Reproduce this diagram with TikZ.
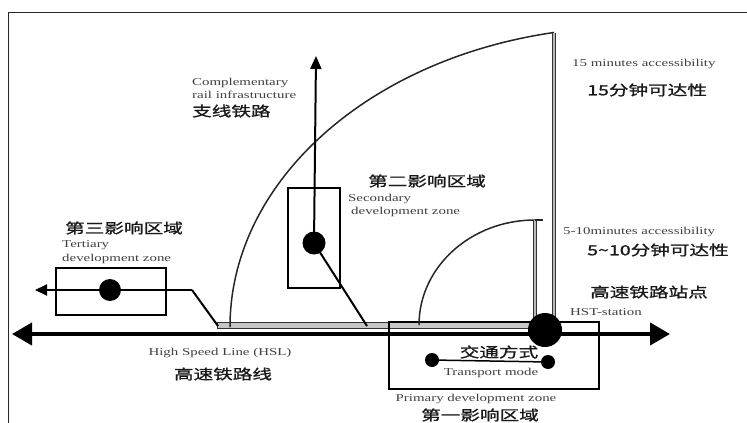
\documentclass[tikz,border=0pt]{standalone}
\usepackage{fontspec}
\setmainfont{Liberation Serif}
\newfontfamily\enfont[FakeStretch=1.42]{Liberation Serif}
\newfontfamily\cjkfont[FakeStretch=1.4,FakeBold=1.2]{Noto Sans CJK SC}
\usetikzlibrary{arrows.meta}
\begin{document}
\begin{tikzpicture}[x=1pt,y=-1pt,
  entext/.style={font=\enfont\fontsize{10.5}{11}\selectfont, text=black!75, inner sep=0pt},
  zhtext/.style={font=\cjkfont\fontsize{14}{15}\selectfont, text=black!90, inner sep=0pt},
  dot/.style={circle, fill=black, inner sep=0pt},
  zonebox/.style={draw=black, line width=2pt},
  arcline/.style={draw=black!85, line width=1.5pt},
  dblline/.style={draw=black!80, line width=0.9pt, double=gray!55, double distance=1.4pt},
  thinline/.style={draw=black, line width=2pt}
]
\useasboundingbox (0,0) rectangle (747,423);
% frame
\draw[line width=1pt, black!85] (8,423) -- (8,12) -- (747,12);

% coordinates
\coordinate (hslL) at (12,334);
\coordinate (hslR) at (670,334);
\coordinate (bandL) at (217,322);
\coordinate (bandR) at (540,328);
\coordinate (terEnd) at (35,290);
\coordinate (terCorner) at (192,290);
\coordinate (terJoin) at (218,326);
\coordinate (secTop) at (316,56);
\coordinate (secJoin) at (367,326);
\coordinate (outerStart) at (230,327);
\coordinate (outerTop) at (554,32.5);
\coordinate (outerFoot) at (554,320);
\coordinate (innerStart) at (419,325);
\coordinate (innerTop) at (535,220);
\coordinate (innerFoot) at (535,320);
\coordinate (innerTick) at (543,220);

% band along the HSL
\draw[draw=black!80, fill=gray!45, line width=0.8pt] (bandL) rectangle (bandR);

% zone boxes
\node[zonebox, minimum width=110pt, minimum height=47pt, anchor=north west, inner sep=0pt] (terbox) at (55,267) {};
\node[zonebox, minimum width=52pt, minimum height=100pt, anchor=north west, inner sep=0pt] (secbox) at (287,187) {};
\node[zonebox, minimum width=210pt, minimum height=67pt, anchor=north west, inner sep=0pt] (pribox) at (388,321) {};

% main high speed line
\draw[line width=4pt, {Triangle[length=20pt,width=22pt]}-{Triangle[length=20pt,width=22pt]}] (hslL) -- (hslR);

% accessibility arcs
\draw[arcline] (outerStart) arc[start angle=180, end angle=259.05, x radius=400, y radius=300];
\draw[dblline] (outerTop) -- (outerFoot);
\draw[arcline] (innerStart) arc[start angle=180, end angle=270, x radius=116, y radius=105];
\draw[dblline] (innerTop) -- (innerFoot);
\draw[arcline] (innerTop) -- (innerTick);

% dots
\node[dot, minimum size=22pt] (ter) at (110,290) {};
\node[dot, minimum size=23pt] (sec) at (314,243) {};
\node[dot, minimum size=34pt] (hst) at (545,330) {};
\node[dot, minimum size=14pt] (tmA) at (432,360) {};
\node[dot, minimum size=14pt] (tmB) at (548,362) {};

% connectors
\draw[thinline, -{Triangle[length=12pt,width=11pt]}] (terCorner) -- (terEnd);
\draw[thinline] (terJoin) -- (terCorner);
\draw[thinline, -{Triangle[length=13pt,width=11pt]}] (sec.center) -- (secTop);
\draw[thinline] (sec.center) -- (secJoin);
\draw[line width=1.5pt] (tmA) -- (tmB);

% texts
\node[entext, anchor=west] (tc1) at (192,83) {Complementary};
\node[entext, anchor=west] (tc2) at (192,95) {rail infrastructure};
\node[zhtext, anchor=west] (tc3) at (192,111) {支线铁路};

\node[entext, anchor=west] (t15a) at (572,64) {15 minutes accessibility};
\node[zhtext, anchor=west] (t15b) at (587,90) {15分钟可达性};

\node[zhtext, anchor=west] (ts1) at (368,181) {第二影响区域};
\node[entext, anchor=west] (ts2) at (348,199) {Secondary};
\node[entext, anchor=west] (ts3) at (351,212) {development zone};

\node[zhtext, anchor=west] (tt1) at (65,228) {第三影响区域};
\node[entext, anchor=west] (tt2) at (62,245) {Tertiary};
\node[entext, anchor=west] (tt3) at (62,259) {development zone};

\node[entext, anchor=west] (t10a) at (563,232) {5-10minutes accessibility};
\node[zhtext, anchor=west] (t10b) at (587,250) {5\textasciitilde10分钟可达性};

\node[zhtext, anchor=west] (th1) at (590,292) {高速铁路站点};
\node[entext, anchor=west] (th2) at (570,312) {HST-station};

\node[entext] (tl1) at (220,353) {High Speed Line (HSL)};
\node[zhtext] (tl2) at (223,374) {高速铁路线};

\node[zhtext] (tm1) at (499,352) {交通方式};
\node[entext] (tm2) at (491,373) {Transport mode};

\node[entext] (tp1) at (476,399) {Primary development zone};
\node[zhtext] (tp2) at (480,415) {第一影响区域};
\end{tikzpicture}
\end{document}
